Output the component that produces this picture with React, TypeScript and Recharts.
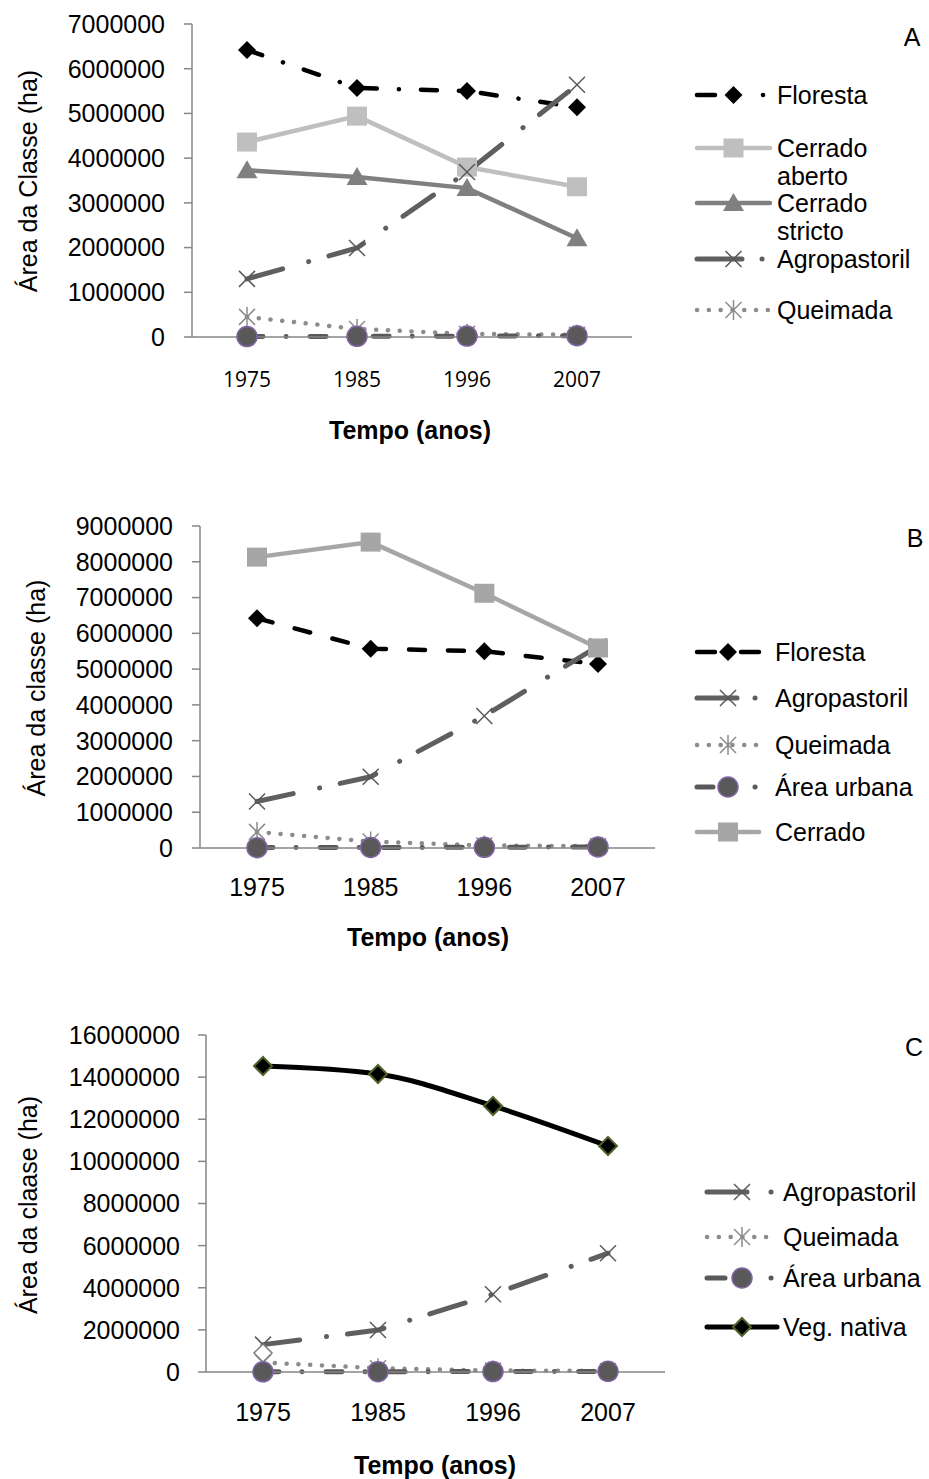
import React from 'react';
import { LineChart, Line, XAxis, YAxis } from 'recharts';

// Values (ha)
const years = ['1975', '1985', '1996', '2007'];
const floresta = [6420000, 5570000, 5500000, 5140000];
const cerradoAberto = [4360000, 4940000, 3800000, 3360000];
const cerradoStricto = [3730000, 3580000, 3330000, 2210000];
const agropastoril = [1300000, 1990000, 3690000, 5640000];
const queimada = [450000, 180000, 70000, 50000];
const areaUrbana = [10000, 15000, 20000, 30000];
const cerrado = [8130000, 8550000, 7120000, 5590000];
const vegNativa = [14530000, 14150000, 12630000, 10730000];
const semRotulo = [900000, null, null, null];

const ticksA = [0, 1000000, 2000000, 3000000, 4000000, 5000000, 6000000, 7000000];
const ticksB = [0, 1000000, 2000000, 3000000, 4000000, 5000000, 6000000, 7000000, 8000000, 9000000];
const ticksC = [0, 2000000, 4000000, 6000000, 8000000, 10000000, 12000000, 14000000, 16000000];

const rows = years.map((year, i) => ({
  year,
  floresta: floresta[i],
  cerradoAberto: cerradoAberto[i],
  cerradoStricto: cerradoStricto[i],
  agropastoril: agropastoril[i],
  queimada: queimada[i],
  areaUrbana: areaUrbana[i],
  cerrado: cerrado[i],
  vegNativa: vegNativa[i],
  semRotulo: semRotulo[i],
}));

const FONT = '"Liberation Sans", Arial, sans-serif';
const AXIS = '#868686';

type Marker = 'diamond' | 'diamondGreen' | 'diamondOpen' | 'squareLight' | 'squareMid' | 'triangle' | 'x' | 'asterisk' | 'circle';

interface Serie {
  key: string;
  color: string;
  width: number;
  dash?: string;
  marker: Marker;
  curve?: 'linear' | 'monotone';
}

function marker(kind: Marker, cx: number, cy: number) {
  const d = (r: number) => `${cx},${cy - r} ${cx + r},${cy} ${cx},${cy + r} ${cx - r},${cy}`;
  switch (kind) {
    case 'diamond':
      return <polygon points={d(9)} fill="#000" />;
    case 'diamondGreen':
      return <polygon points={d(9)} fill="#000" stroke="#4F6228" strokeWidth={2} />;
    case 'diamondOpen':
      return <polygon points={d(9)} fill="#fff" stroke="#7F7F7F" strokeWidth={1.5} />;
    case 'squareLight':
      return <rect x={cx - 10} y={cy - 9.5} width={20} height={19} fill="#BFBFBF" />;
    case 'squareMid':
      return <rect x={cx - 10} y={cy - 9.5} width={20} height={19} fill="#A6A6A6" />;
    case 'triangle':
      return <polygon points={`${cx},${cy - 10} ${cx + 10.5},${cy + 8} ${cx - 10.5},${cy + 8}`} fill="#808080" />;
    case 'x':
      return (
        <path d={`M${cx - 8},${cy - 8}L${cx + 8},${cy + 8}M${cx + 8},${cy - 8}L${cx - 8},${cy + 8}`} stroke="#595959" strokeWidth={1.5} fill="none" />
      );
    case 'asterisk':
      return (
        <path
          d={`M${cx - 8},${cy - 8}L${cx + 8},${cy + 8}M${cx + 8},${cy - 8}L${cx - 8},${cy + 8}M${cx},${cy - 10}L${cx},${cy + 10}`}
          stroke="#8C8C8C"
          strokeWidth={1.5}
          fill="none"
        />
      );
    case 'circle':
      return <circle cx={cx} cy={cy} r={10} fill="#595959" stroke="#8064A2" strokeWidth={1.5} />;
  }
}

const dotOf = (kind: Marker, key: string) => (p: any) => {
  const k = `${key}-${p.index}`;
  if (p.cx == null || p.cy == null || p.value == null || isNaN(p.cy)) return <g key={k} />;
  return <g key={k}>{marker(kind, p.cx, p.cy)}</g>;
};

const S: Record<string, Serie> = {
  florestaA: { key: 'floresta', color: '#000', width: 4.5, dash: '16 22 0.1 22', marker: 'diamond' },
  florestaB: { key: 'floresta', color: '#000', width: 4.5, dash: '16 23', marker: 'diamond' },
  cerradoAberto: { key: 'cerradoAberto', color: '#BFBFBF', width: 4.5, marker: 'squareLight' },
  cerradoStricto: { key: 'cerradoStricto', color: '#808080', width: 4.5, marker: 'triangle' },
  agropastoril: { key: 'agropastoril', color: '#5F5F5F', width: 5, dash: '37 27 0.1 21', marker: 'x' },
  queimada: { key: 'queimada', color: '#8C8C8C', width: 4.5, dash: '0.1 11.7', marker: 'asterisk' },
  areaUrbana: { key: 'areaUrbana', color: '#595959', width: 5, dash: '16 23 0.1 24', marker: 'circle' },
  cerrado: { key: 'cerrado', color: '#A6A6A6', width: 4.5, marker: 'squareMid' },
  vegNativa: { key: 'vegNativa', color: '#000', width: 5, marker: 'diamondGreen', curve: 'monotone' },
  semRotulo: { key: 'semRotulo', color: '#7F7F7F', width: 1, marker: 'diamondOpen' },
};

interface PanelProps {
  top: number;
  series: Serie[];
  yTicks: number[];
  marginTop: number;
  right: number;
  bottom: number;
  yWidth: number;
  pad: number;
  xTick: { fontFamily: string; fontSize: number };
  xMargin: number;
  yMargin: number;
}

function Panel(p: PanelProps) {
  return (
    <div style={{ position: 'absolute', left: 0, top: p.top }}>
      <LineChart width={929} height={470} data={rows} margin={{ top: p.marginTop, right: p.right, bottom: p.bottom, left: 0 }}>
        <XAxis
          dataKey="year"
          padding={{ left: p.pad, right: p.pad }}
          tickLine={false}
          tickSize={0}
          tickMargin={p.xMargin}
          axisLine={{ stroke: AXIS, strokeWidth: 1.5 }}
          tick={{ fill: '#000', ...p.xTick }}
          interval={0}
          height={60}
        />
        <YAxis
          domain={[0, p.yTicks[p.yTicks.length - 1]]}
          ticks={p.yTicks}
          interval={0}
          width={p.yWidth}
          tickSize={8}
          tickMargin={p.yMargin}
          tickLine={{ stroke: AXIS, strokeWidth: 1.5 }}
          axisLine={{ stroke: AXIS, strokeWidth: 1.5 }}
          tick={{ fill: '#000', fontSize: 25, fontFamily: FONT }}
        />
        {p.series.map((s) => (
          <Line
            key={s.key}
            type={s.curve ?? 'linear'}
            dataKey={s.key}
            stroke={s.color}
            strokeWidth={s.width}
            strokeDasharray={s.dash}
            strokeLinecap="round"
            dot={dotOf(s.marker, s.key)}
            activeDot={false}
            legendType="none"
            isAnimationActive={false}
          />
        ))}
      </LineChart>
    </div>
  );
}

interface LegendItem {
  serie: Serie;
  y: number;
  label: string[];
  dash?: string;
}

function Legend({ x, w, textX, items }: { x: number; w: number; textX: number; items: LegendItem[] }) {
  return (
    <>
      {items.map((it, i) => (
        <React.Fragment key={i}>
          <svg style={{ position: 'absolute', left: x - 3, top: it.y - 15 }} width={w + 6} height={30}>
            <line
              x1={3}
              y1={15}
              x2={w + 3}
              y2={15}
              stroke={it.serie.color}
              strokeWidth={it.serie.width}
              strokeDasharray={it.dash ?? it.serie.dash}
              strokeLinecap="round"
            />
            {marker(it.serie.marker, 3 + w / 2, 15)}
          </svg>
          {it.label.map((l, j) => (
            <div
              key={j}
              style={{
                position: 'absolute',
                left: textX,
                top: it.y - 11 + j * 28,
                fontFamily: FONT,
                fontSize: 25,
                lineHeight: '22px',
                whiteSpace: 'nowrap',
              }}
            >
              {l}
            </div>
          ))}
        </React.Fragment>
      ))}
    </>
  );
}

function Label({ x, y, text, rotate, bold }: { x: number; y: number; text: string; rotate?: boolean; bold?: boolean }) {
  return (
    <div
      style={{
        position: 'absolute',
        left: x,
        top: y,
        transform: `translate(-50%, -50%)${rotate ? ' rotate(-90deg)' : ''}`,
        fontFamily: FONT,
        fontSize: 25,
        fontWeight: bold ? 'bold' : 'normal',
        whiteSpace: 'nowrap',
        lineHeight: '30px',
      }}
    >
      {text}
    </div>
  );
}

export default function App() {
  return (
    <div style={{ position: 'absolute', left: 0, top: 0, width: 929, height: 1479, background: '#fff', overflow: 'hidden' }}>
      {/* A */}
      <Panel
        top={0}
        series={[S.florestaA, S.cerradoAberto, S.cerradoStricto, S.agropastoril, S.queimada, S.areaUrbana]}
        yTicks={ticksA}
        marginTop={24}
        right={297}
        bottom={73}
        yWidth={192}
        pad={55}
        xTick={{ fontFamily: '"Open Sans", sans-serif', fontSize: 21 }}
        xMargin={35}
        yMargin={19}
      />
      <Label x={28} y={181} text="Área da Classe (ha)" rotate />
      <Label x={410} y={430} text="Tempo (anos)" bold />
      <Label x={912} y={37} text="A" />
      <Legend
        x={697}
        w={73}
        textX={777}
        items={[
          { serie: S.florestaA, y: 95, label: ['Floresta'], dash: '18 48 0.1 20' },
          { serie: S.cerradoAberto, y: 148, label: ['Cerrado', 'aberto'] },
          { serie: S.cerradoStricto, y: 203, label: ['Cerrado', 'stricto'] },
          { serie: S.agropastoril, y: 259, label: ['Agropastoril'], dash: '45 20 0.1 20' },
          { serie: S.queimada, y: 310, label: ['Queimada'] },
        ]}
      />

      {/* B */}
      <Panel
        top={500}
        series={[S.florestaB, S.agropastoril, S.queimada, S.areaUrbana, S.cerrado]}
        yTicks={ticksB}
        marginTop={26}
        right={274}
        bottom={62}
        yWidth={200}
        pad={57}
        xTick={{ fontFamily: FONT, fontSize: 25 }}
        xMargin={30}
        yMargin={19}
      />
      <Label x={36} y={688} text="Área da classe (ha)" rotate />
      <Label x={428} y={937} text="Tempo (anos)" bold />
      <Label x={915} y={538} text="B" />
      <Legend
        x={697}
        w={62}
        textX={775}
        items={[
          { serie: S.florestaB, y: 652, label: ['Floresta'], dash: '18 26 18' },
          { serie: S.agropastoril, y: 698, label: ['Agropastoril'], dash: '40 18 0.1 20' },
          { serie: S.queimada, y: 745, label: ['Queimada'] },
          { serie: S.areaUrbana, y: 787, label: ['Área urbana'], dash: '16 42 0.1 20' },
          { serie: S.cerrado, y: 832, label: ['Cerrado'] },
        ]}
      />

      {/* C */}
      <Panel
        top={1000}
        series={[S.agropastoril, S.queimada, S.semRotulo, S.areaUrbana, S.vegNativa]}
        yTicks={ticksC}
        marginTop={35}
        right={264}
        bottom={38}
        yWidth={206}
        pad={57}
        xTick={{ fontFamily: FONT, fontSize: 25 }}
        xMargin={31}
        yMargin={18}
      />
      <Label x={28} y={1205} text="Área da claase (ha)" rotate />
      <Label x={435} y={1465} text="Tempo (anos)" bold />
      <Label x={914} y={1047} text="C" />
      <Legend
        x={707}
        w={70}
        textX={783}
        items={[
          { serie: S.agropastoril, y: 1192, label: ['Agropastoril'], dash: '40 24 0.1 20' },
          { serie: S.queimada, y: 1237, label: ['Queimada'] },
          { serie: S.areaUrbana, y: 1278, label: ['Área urbana'], dash: '18 46 0.1 20' },
          { serie: S.vegNativa, y: 1327, label: ['Veg. nativa'] },
        ]}
      />
    </div>
  );
}
